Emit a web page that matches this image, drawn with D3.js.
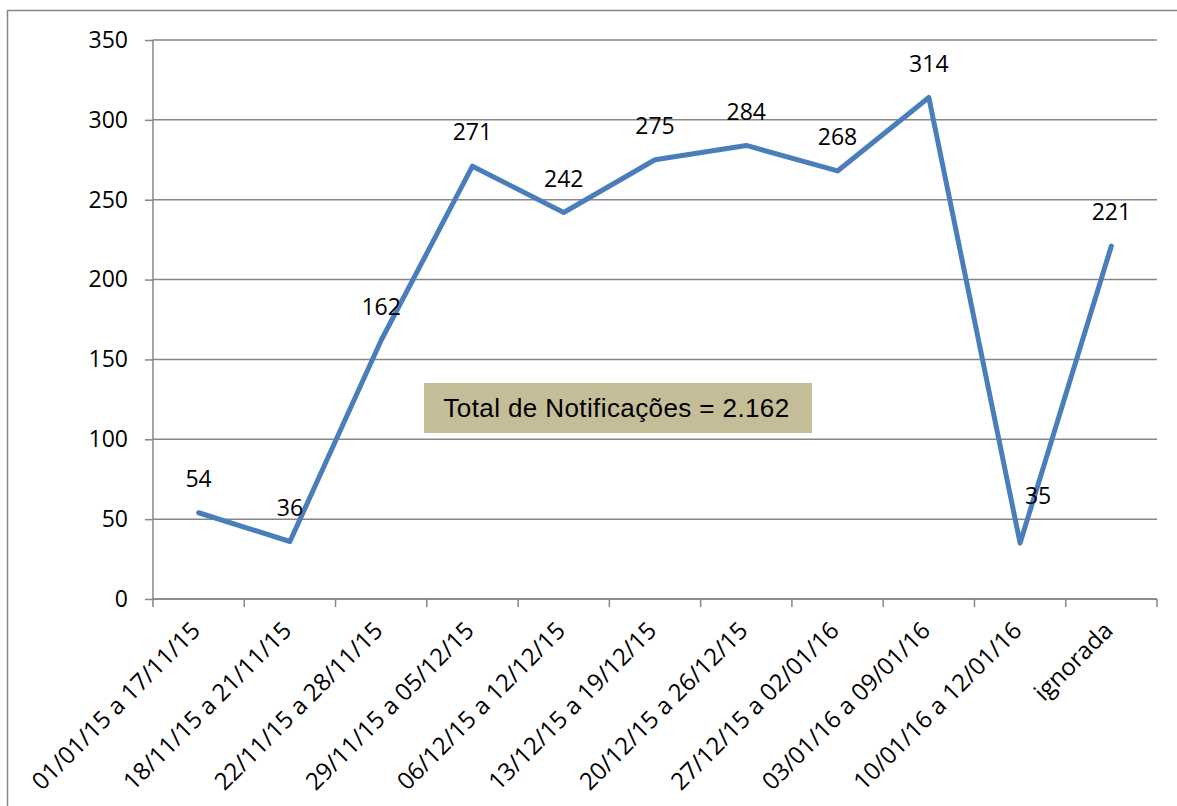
<!DOCTYPE html>
<html lang="pt">
<head>
<meta charset="UTF-8">
<title>Notificações por semana</title>
<script src="https://d3js.org/d3.v7.min.js"></script>
<style>
  body { margin: 0; background: #fff; }
  svg { display: block; }
  .tick text { font-family: "Open Sans", Lato, sans-serif; font-size: 23px; fill: #000; }
</style>
</head>
<body>
<svg id="chart" width="1177" height="806"></svg>
<script>
  // data
  const categories = [
    "01/01/15 a 17/11/15", "18/11/15 a 21/11/15", "22/11/15 a 28/11/15",
    "29/11/15 a 05/12/15", "06/12/15 a 12/12/15", "13/12/15 a 19/12/15",
    "20/12/15 a 26/12/15", "27/12/15 a 02/01/16", "03/01/16 a 09/01/16",
    "10/01/16 a 12/01/16", "ignorada"
  ];
  const values = [54, 36, 162, 271, 242, 275, 284, 268, 314, 35, 221];
  const yTicks = [0, 50, 100, 150, 200, 250, 300, 350];
  const totalText = "Total de Notificações = 2.162";

  const margin = { top: 40, right: 20, bottom: 207, left: 153 };
  const W = 1177, H = 806;
  const width = 1157 - margin.left;
  const height = 599 - margin.top;
  const grid = "#868686";
  const font = "'Open Sans', Lato, sans-serif";

  const svg = d3.select("#chart");

  // outer chart border (runs off the right/bottom edge in the original)
  svg.append("rect")
    .attr("x", 7.5).attr("y", 10.5)
    .attr("width", W + 20).attr("height", H + 20)
    .attr("fill", "none").attr("stroke", grid).attr("stroke-width", 1.5);

  const g = svg.append("g").attr("transform", `translate(${margin.left},${margin.top})`);

  const x = d3.scaleBand().domain(categories).range([0, width]).padding(0);
  const y = d3.scaleLinear().domain([0, 350]).range([height, 0]);

  // gridlines
  g.append("g").selectAll("line")
    .data(yTicks)
    .join("line")
    .attr("x1", 0).attr("x2", width)
    .attr("y1", d => y(d)).attr("y2", d => y(d))
    .attr("stroke", grid).attr("stroke-width", 1.5);

  // y axis
  const yAxis = g.append("g")
    .call(d3.axisLeft(y).tickValues(yTicks).tickSize(8).tickPadding(17));
  yAxis.selectAll("line, path").attr("stroke", grid).attr("stroke-width", 1.5);
  yAxis.select(".domain").attr("d", `M0,${y(350)}V${height}`);

  // x axis, ticks on band edges
  const xAxis = g.append("g").attr("transform", `translate(0,${height})`);
  xAxis.append("line").attr("x1", 0).attr("x2", width)
    .attr("stroke", grid).attr("stroke-width", 1.5);
  const edges = categories.map(c => x(c)).concat([width]);
  xAxis.selectAll(".xt")
    .data(edges)
    .join("line")
    .attr("class", "xt")
    .attr("x1", d => d).attr("x2", d => d)
    .attr("y1", 0).attr("y2", 8)
    .attr("stroke", grid).attr("stroke-width", 1.5);
  xAxis.selectAll(".xl")
    .data(categories)
    .join("text")
    .attr("class", "xl")
    .attr("transform", d => `translate(${x(d) + x.bandwidth() / 2 + 3},33) rotate(-45)`)
    .attr("text-anchor", "end")
    .style("font-family", font)
    .style("font-size", "24px")
    .text(d => d);

  // line
  const cx = (d, i) => x(categories[i]) + x.bandwidth() / 2;
  const line = d3.line().x(cx).y(d => y(d));
  g.append("path")
    .datum(values)
    .attr("d", line)
    .attr("fill", "none")
    .attr("stroke", "#4a7ebb")
    .attr("stroke-width", 5)
    .attr("stroke-linejoin", "round")
    .attr("stroke-linecap", "round");

  // data labels; the "35" one was moved by hand in the original
  const labelShift = { 9: [18, -13] };
  g.append("g").selectAll("text")
    .data(values)
    .join("text")
    .attr("x", (d, i) => cx(d, i) + (labelShift[i] ? labelShift[i][0] : 0))
    .attr("y", (d, i) => y(d) - 34 + (labelShift[i] ? labelShift[i][1] : 0))
    .attr("dy", "0.36em")
    .attr("text-anchor", "middle")
    .style("font-family", font)
    .style("font-size", "23px")
    .text(d => d);

  // total box
  svg.append("rect")
    .attr("x", 424).attr("y", 383)
    .attr("width", 388).attr("height", 50)
    .attr("fill", "#c4bd97");
  svg.append("text")
    .attr("x", 616.5).attr("y", 408)
    .attr("dy", "0.36em")
    .attr("text-anchor", "middle")
    .style("font-family", "'Liberation Sans', Arial, sans-serif")
    .style("font-size", "26px")
    .style("letter-spacing", "0.4px")
    .text(totalText);
</script>
</body>
</html>
